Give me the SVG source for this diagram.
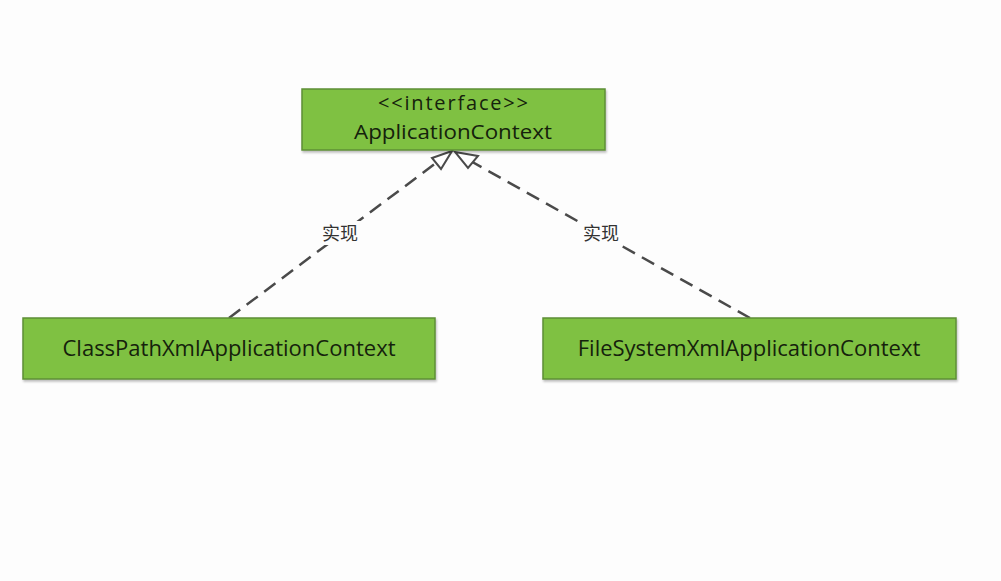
<svg xmlns="http://www.w3.org/2000/svg" width="1001" height="581" viewBox="0 0 1001 581">
<defs>
<style>
.box{fill:#7fc142;stroke:#5e8f34;stroke-width:1.5}
.t{font-family:"Segoe UI","Open Sans","Noto Sans",sans-serif;font-size:22px;fill:#15220c;text-anchor:middle}
.ts{font-size:20px}
.c{fill:none;stroke:#4a4a4a;stroke-width:2.5;stroke-dasharray:14 8}
.head{fill:#ffffff;stroke:#4a4a4a;stroke-width:2}
.lbl{font-family:"Noto Sans CJK SC",sans-serif;font-size:18px;fill:#333;text-anchor:middle}
</style>
<filter id="sh" x="-5%" y="-10%" width="110%" height="130%">
<feDropShadow dx="1" dy="2" stdDeviation="1.2" flood-color="#000" flood-opacity="0.25"/>
</filter>
</defs>
<rect width="1001" height="581" fill="#fdfdfd"/>
<g id="connectors">
<path class="c" d="M229,318 L440,160"/>
<polygon class="head" points="452,151 432,158 441,169"/>
<path class="c" d="M750,318 L467,159"/>
<polygon class="head" points="455,152 478,156 468,168"/>
<rect x="318" y="221" width="44" height="24" fill="#fdfdfd"/>
<text class="lbl" x="340" y="240">实现</text>
<rect x="579" y="221" width="44" height="24" fill="#fdfdfd"/>
<text class="lbl" x="601" y="240">实现</text>
</g>
<g id="ApplicationContext">
<rect class="box" x="302" y="89" width="303" height="61" filter="url(#sh)"/>
<text class="t ts" x="453" y="110" textLength="150" lengthAdjust="spacing">&lt;&lt;interface&gt;&gt;</text>
<text class="t ts" x="453" y="139" textLength="198" lengthAdjust="spacingAndGlyphs">ApplicationContext</text>
</g>
<g id="ClassPathXmlApplicationContext">
<rect class="box" x="23" y="318" width="412" height="61" filter="url(#sh)"/>
<text class="t" x="229" y="356">ClassPathXmlApplicationContext</text>
</g>
<g id="FileSystemXmlApplicationContext">
<rect class="box" x="543" y="318" width="413" height="61" filter="url(#sh)"/>
<text class="t" x="749" y="356">FileSystemXmlApplicationContext</text>
</g>
</svg>
